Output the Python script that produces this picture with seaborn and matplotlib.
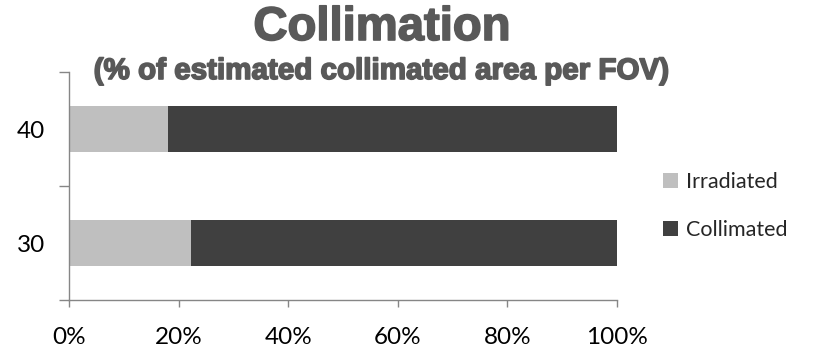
import matplotlib
matplotlib.use("Agg")
import matplotlib.pyplot as plt
import matplotlib.patheffects as pe
from matplotlib.patches import Patch
import pandas as pd
import seaborn as sns

# Field-of-view sizes and the share of each field that is irradiated vs. collimated (%)
fov = ["40", "30"]
irradiated = [18.0, 22.2]
collimated = [82.0, 77.8]
x_ticks = [0, 20, 40, 60, 80, 100]
x_tick_labels = ["0%", "20%", "40%", "60%", "80%", "100%"]

LIGHT = "#BFBFBF"
DARK = "#404040"
AXIS = "#868686"
TITLE = "#595959"

sns.set_theme(style="white")
plt.rcParams["font.family"] = ["Lato", "DejaVu Sans"]

df = pd.DataFrame({"fov": fov, "irradiated": irradiated, "collimated": collimated})
df["total"] = df["irradiated"] + df["collimated"]

fig = plt.figure(figsize=(8.17, 3.51), dpi=100)
ax = fig.add_axes([69 / 817, 1 - 300 / 351, (617 - 69) / 817, (300 - 72) / 351])

# stacked bars: full length in the dark colour, irradiated share drawn on top
sns.barplot(data=df, y="fov", x="total", order=fov, orient="h", color=DARK,
            width=0.4, saturation=1, ax=ax, edgecolor="none")
sns.barplot(data=df, y="fov", x="irradiated", order=fov, orient="h", color=LIGHT,
            width=0.4, saturation=1, ax=ax, edgecolor="none")

ax.set_xlim(0, 100)
ax.set_ylim(1.5, -0.5)
ax.set_xlabel("")
ax.set_ylabel("")

ax.set_xticks(x_ticks)
ax.set_xticklabels(x_tick_labels, fontsize=17.5, color="black")
ax.tick_params(axis="x", bottom=True, length=5, width=1, color=AXIS,
               direction="out", pad=14.5)

ax.set_yticks([0, 1])
ax.set_yticklabels(fov, fontsize=17.5, color="black")
ax.set_yticks([-0.5, 0.5, 1.5], minor=True)
ax.tick_params(axis="y", which="major", left=True, length=0, pad=17)
ax.tick_params(axis="y", which="minor", left=True, length=7, width=1,
               color=AXIS, direction="out")

for side in ["top", "right"]:
    ax.spines[side].set_visible(False)
for side in ["left", "bottom"]:
    ax.spines[side].set_color(AXIS)
    ax.spines[side].set_linewidth(1)

heavy = [pe.withStroke(linewidth=1.2, foreground=TITLE)]
fig.text(382 / 817, 1 - 40 / 351, "Collimation", ha="center", va="baseline",
         fontsize=34, fontweight="bold", color=TITLE, family="Liberation Sans",
         path_effects=heavy)
fig.text(382 / 817, 1 - 79 / 351, "(% of estimated collimated area per FOV)",
         ha="center", va="baseline", fontsize=21.3, fontweight="bold",
         color=TITLE, family="Liberation Sans", path_effects=heavy)

handles = [Patch(facecolor=LIGHT, edgecolor="none", label="Irradiated"),
           Patch(facecolor=DARK, edgecolor="none", label="Collimated")]
fig.legend(handles=handles, loc="center left", bbox_to_anchor=(662.5 / 817, 1 - 206 / 351),
           frameon=False, fontsize=15.5, handlelength=0.7, handleheight=0.7,
           handletextpad=0.4, labelspacing=1.3, borderpad=0, borderaxespad=0)

fig.savefig("out.png", dpi=100)
